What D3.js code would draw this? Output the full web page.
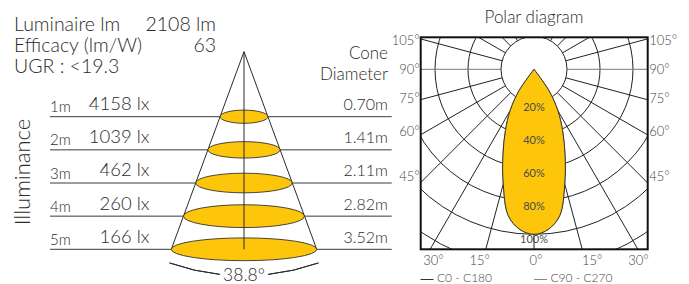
<!DOCTYPE html>
<html>
<head>
<meta charset="utf-8">
<script src="https://cdn.jsdelivr.net/npm/d3@7/dist/d3.min.js"></script>
<style>
  html, body { margin: 0; padding: 0; background: #fff; }
  svg { display: block; }
  text { font-family: Lato, "Liberation Sans", sans-serif; font-weight: 300; fill: #2b2b2b; }
</style>
</head>
<body>
<svg id="chart" width="689" height="284"></svg>
<script>
// ---------------- DATA ----------------
const infoLabels = ["Luminaire lm", "Efficacy (lm/W)", "UGR : <19.3"];
const infoValues = ["2108 lm", "63", ""];
const distances = [1, 2, 3, 4, 5];
const luxValues = [4158, 1039, 462, 260, 166];
const coneDiameters = [0.70, 1.41, 2.11, 2.82, 3.52];
const beamAngle = 38.8;

const polarAngles = [0, 5, 10, 15, 20, 25, 30, 35, 40];
const c0c180 = [1.00, 0.975, 0.90, 0.72, 0.55, 0.41, 0.29, 0.16, 0.00];
const c90c270 = [1.00, 0.975, 0.90, 0.72, 0.55, 0.41, 0.29, 0.16, 0.00];
const ringValues = [0.2, 0.4, 0.6, 0.8, 1.0, 1.2];
const ringLabels = ["20%", "40%", "60%", "80%", "100%"];
const gridAngles = [0, 15, 30, 45, 60, 75, 90, 105, 120, 135, 150, 165, 180];
const sideAngleLabels = [105, 90, 75, 60, 45];
const bottomAngleLabels = [-30, -15, 0, 15, 30];
const legendLabels = ["C0 - C180", "C90 - C270"];

// ---------------- LAYOUT ----------------
const svg = d3.select("#chart");
const YELLOW = "#FEC60B";
const INK = "#2b2b2b";

// info block
const infoY = d3.scaleLinear().domain([0, 2]).range([30.7, 72.7]);
infoLabels.forEach((t, i) => {
  svg.append("text").attr("x", 14).attr("y", infoY(i)).attr("font-size", 19.5).text(t);
  if (infoValues[i]) svg.append("text").attr("x", 216).attr("y", infoY(i))
    .attr("text-anchor", "end").attr("font-size", 19.5).text(infoValues[i]);
});

// cone headers
svg.append("text").attr("x", 388).attr("y", 59.3).attr("text-anchor", "end").attr("font-size", 17).text("Cone");
svg.append("text").attr("x", 388).attr("y", 80).attr("text-anchor", "end").attr("font-size", 17).text("Diameter");

// Illuminance vertical title
svg.append("text").attr("transform", "translate(29.5,172) rotate(-90)")
  .attr("text-anchor", "middle").attr("font-size", 22).text("Illuminance");

// distance scale
const yD = d3.scaleLinear().domain([1, 5]).range([116.7, 249.3]);
const coneX = 244, apexY = 51.7;
const coneSlope = 0.368;
const halfW = d => (yD(d) - apexY) * coneSlope;

const gCone = svg.append("g");
gCone.selectAll("line.row").data(distances).join("line")
  .attr("x1", 50).attr("x2", 391.7)
  .attr("y1", d => yD(d)).attr("y2", d => yD(d))
  .attr("stroke", "#3a3a3a").attr("stroke-width", 1);

const dMax = d3.max(distances);
[-1, 1].forEach(s => {
  gCone.append("line").attr("x1", coneX).attr("y1", apexY)
    .attr("x2", coneX + s * halfW(dMax)).attr("y2", yD(dMax))
    .attr("stroke", INK).attr("stroke-width", 1);
});

gCone.selectAll("ellipse").data(distances).join("ellipse")
  .attr("cx", coneX).attr("cy", d => yD(d))
  .attr("rx", d => halfW(d))
  .attr("ry", (d, i) => Math.min(6.6 + 1.6 * i, 11.4))
  .attr("fill", YELLOW).attr("stroke", "#333").attr("stroke-width", 0.9);

gCone.append("line").attr("x1", coneX).attr("x2", coneX)
  .attr("y1", apexY).attr("y2", yD(dMax))
  .attr("stroke", INK).attr("stroke-width", 1);

distances.forEach((d, i) => {
  svg.append("text").attr("x", 50).attr("y", yD(d) - 4.4).attr("font-size", 15).text(d + "m");
  svg.append("text").attr("x", 149.5).attr("y", yD(d) - 6.6).attr("text-anchor", "end")
    .attr("font-size", 18.5).text(luxValues[i] + " lx");
  svg.append("text").attr("x", 388).attr("y", yD(d) - 6.6).attr("text-anchor", "end")
    .attr("font-size", 16).text(coneDiameters[i].toFixed(2) + "m");
});

// beam angle arc (centered at apex)
const arcR = 224;
const halfBeam = beamAngle / 2 * Math.PI / 180;
const gapA = 6.2 * Math.PI / 180;
[[Math.PI - halfBeam, Math.PI - gapA], [Math.PI + gapA, Math.PI + halfBeam]].forEach(([a0, a1]) => {
  svg.append("path").attr("transform", `translate(${coneX},${apexY})`)
    .attr("d", d3.arc()({innerRadius: arcR, outerRadius: arcR, startAngle: a0, endAngle: a1}))
    .attr("fill", "none").attr("stroke", INK).attr("stroke-width", 1);
});
svg.append("text").attr("x", coneX).attr("y", 281).attr("text-anchor", "middle")
  .attr("font-size", 17.5).text(beamAngle + "°");

// ---------------- POLAR ----------------
const box = {x0: 420.7, x1: 647.7, y0: 37.3, y1: 249.3};
const cx = 534, cy = 69.3;
const r = d3.scaleLinear().domain([0, 1]).range([0, 165]);
const rad = a => a * Math.PI / 180;
const pt = (a, rr) => [cx + rr * Math.sin(rad(a)), cy + rr * Math.cos(rad(a))];

svg.append("text").attr("x", cx).attr("y", 23.3).attr("text-anchor", "middle")
  .attr("font-size", 17).text("Polar diagram");

const defs = svg.append("defs");
defs.append("clipPath").attr("id", "boxclip").append("rect")
  .attr("x", box.x0).attr("y", box.y0).attr("width", box.x1 - box.x0).attr("height", box.y1 - box.y0);

const gP = svg.append("g").attr("clip-path", "url(#boxclip)");
gP.selectAll("circle.ring").data(ringValues.slice(1)).join("circle")
  .attr("cx", cx).attr("cy", cy).attr("r", d => r(d))
  .attr("fill", "none").attr("stroke", "#222").attr("stroke-width", 1);
const rays = [];
gridAngles.forEach(a => { rays.push(a); if (a !== 0 && a !== 180) rays.push(-a); });
gP.selectAll("line.ray").data(rays).join("line")
  .attr("x1", d => pt(d, r(ringValues[0]))[0]).attr("y1", d => pt(d, r(ringValues[0]))[1])
  .attr("x2", d => pt(d, 400)[0]).attr("y2", d => pt(d, 400)[1])
  .attr("stroke", d => Math.abs(d) === 90 ? "#7a7a7a" : "#222").attr("stroke-width", 1);
gP.append("circle").attr("cx", cx).attr("cy", cy).attr("r", r(ringValues[0]))
  .attr("fill", "#fff").attr("stroke", "#222").attr("stroke-width", 1);

function curvePts(vals) {
  const pts = [];
  for (let i = polarAngles.length - 1; i >= 0; i--) pts.push(pt(-polarAngles[i], r(vals[i])));
  for (let i = 1; i < polarAngles.length; i++) pts.push(pt(polarAngles[i], r(vals[i])));
  return pts;
}
const lineGen = d3.line().curve(d3.curveCatmullRom.alpha(0.5));
gP.append("path").attr("d", lineGen(curvePts(c90c270)) + "Z")
  .attr("fill", YELLOW).attr("stroke", "#888").attr("stroke-width", 1);
gP.append("path").attr("d", lineGen(curvePts(c0c180)) + "Z")
  .attr("fill", YELLOW).attr("stroke", "#333").attr("stroke-width", 1);

ringLabels.forEach((t, i) => {
  gP.append("text").attr("x", cx).attr("y", cy + r(ringValues[i]) + 6)
    .attr("text-anchor", "middle").attr("dominant-baseline", "middle")
    .attr("font-size", 11).style("fill", "#4a4a4a").style("font-weight", 400).text(t);
});

svg.append("rect").attr("x", box.x0).attr("y", box.y0)
  .attr("width", box.x1 - box.x0).attr("height", box.y1 - box.y0)
  .attr("fill", "none").attr("stroke", "#111").attr("stroke-width", 2);

sideAngleLabels.forEach(a => {
  const t = (cx - box.x0) / Math.sin(rad(a));
  const hy = cy + t * Math.cos(rad(a));
  const ly = hy - 0.055 * (hy - cy) + 1.5;
  svg.append("text").attr("x", box.x0 - 1).attr("y", ly).attr("text-anchor", "end")
    .attr("dominant-baseline", "middle").attr("font-size", 13).style("fill", "#444").text(a + "°");
  svg.append("text").attr("x", box.x1 + 1.5).attr("y", ly)
    .attr("dominant-baseline", "middle").attr("font-size", 13).style("fill", "#444").text(a + "°");
});
const halfBox = (box.x1 - box.x0) / 2;
bottomAngleLabels.forEach(a => {
  const dx = (box.y1 - cy) * Math.tan(rad(Math.abs(a)));
  const lx = a === 0 ? 0 : Math.min(dx + 8, halfBox - 11);
  svg.append("text").attr("x", cx + Math.sign(a) * lx + 2).attr("y", 262)
    .attr("text-anchor", "middle").attr("dominant-baseline", "middle")
    .attr("font-size", 13).style("fill", "#444").text(Math.abs(a) + "°");
});
const legX = d3.scaleOrdinal().domain(legendLabels).range([420.5, 534]);
const legColor = d3.scaleOrdinal().domain(legendLabels).range(["#333", "#888"]);
legendLabels.forEach(l => {
  svg.append("line").attr("x1", legX(l)).attr("x2", legX(l) + 13).attr("y1", 279.5).attr("y2", 279.5)
    .attr("stroke", legColor(l)).attr("stroke-width", 1);
  svg.append("text").attr("x", legX(l) + 16.5).attr("y", 279.5).attr("dominant-baseline", "middle")
    .attr("font-size", 12).style("fill", "#444").text(l);
});
</script>
</body>
</html>
